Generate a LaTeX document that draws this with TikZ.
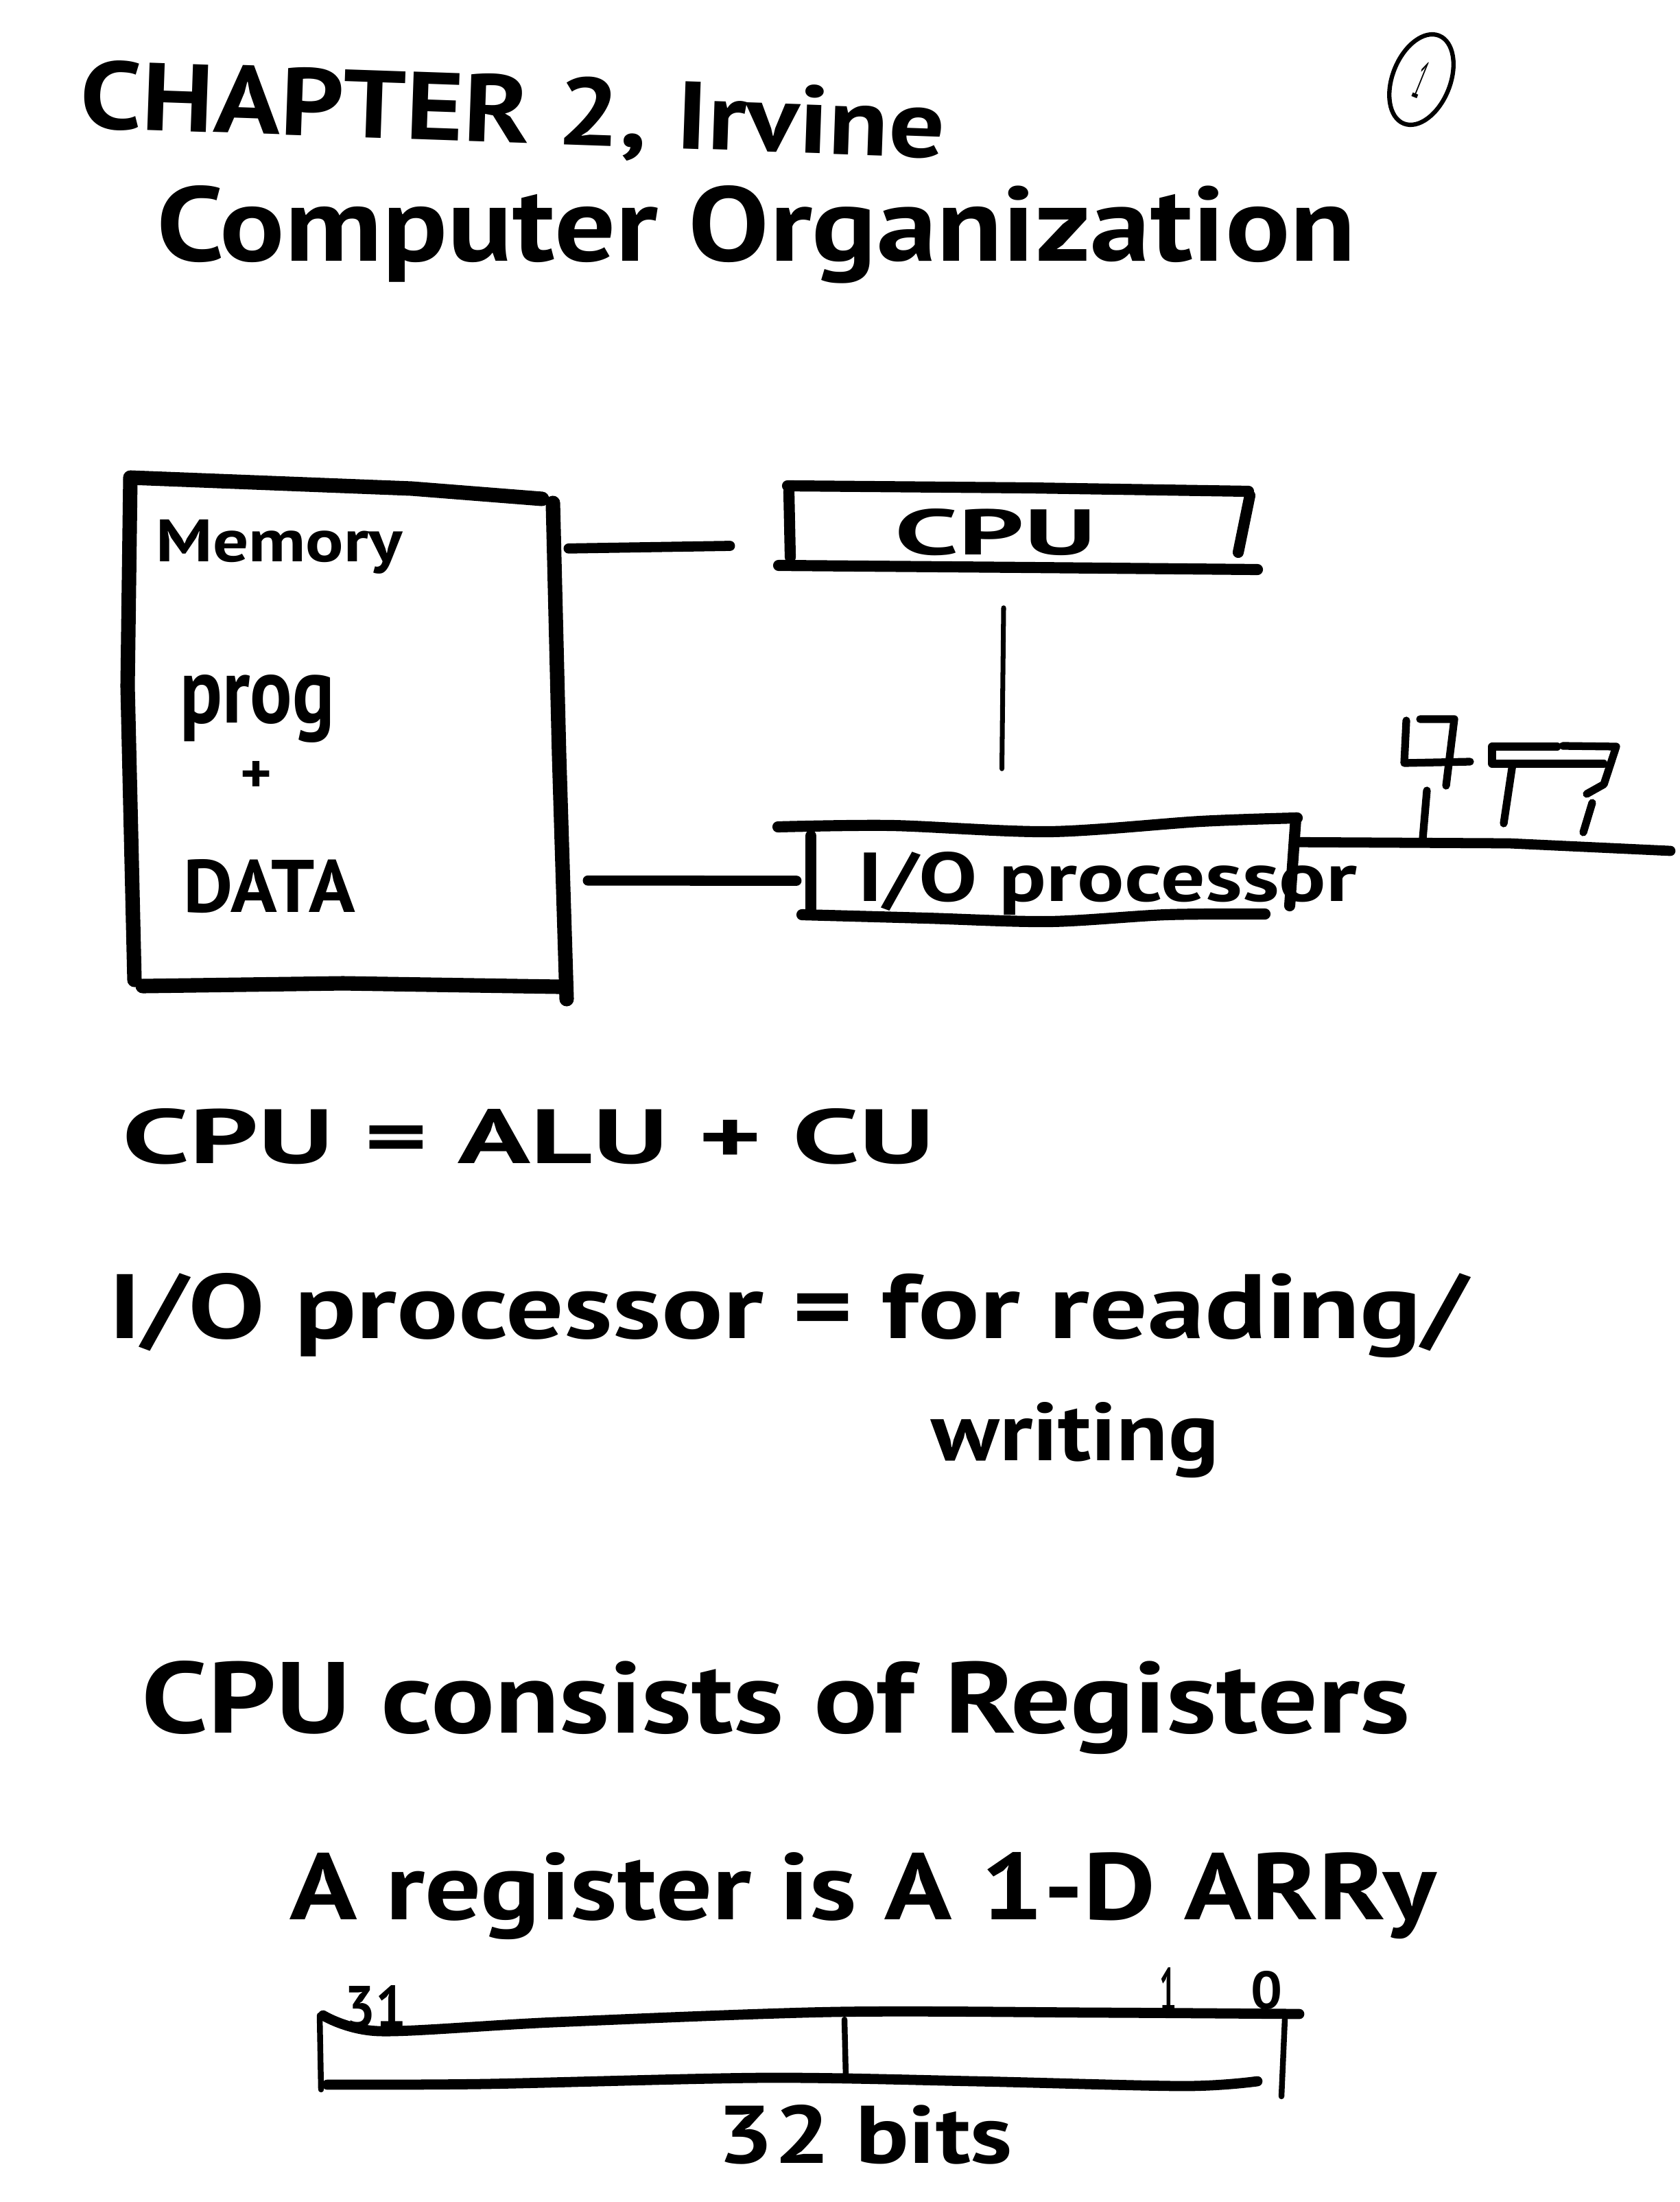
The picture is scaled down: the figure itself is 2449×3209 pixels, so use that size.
\documentclass[tikz,border=0pt]{standalone}
\usepackage{fontspec}
\setmainfont{PT Sans}
\usetikzlibrary{calc,shapes.geometric}
\newcommand\hw[3]{\resizebox{#1}{#2}{\bfseries #3}}
\newcommand\hwl[3]{\resizebox{#1}{#2}{#3}}
\begin{document}
\begin{tikzpicture}[x=0.01cm,y=-0.01cm,line cap=round,line join=round,
  boxline/.style={draw=black,line width=6pt},
  cpuline/.style={draw=black,line width=4.6pt},
  conn/.style={draw=black,line width=4.2pt},
  thinconn/.style={draw=black,line width=2pt},
  devline/.style={draw=black,line width=3.2pt},
  barline/.style={draw=black,line width=4.2pt},
  barvert/.style={draw=black,line width=2.4pt},
  txt/.style={inner sep=0pt,anchor=base west,text=black},
  hold/.style={inner sep=0pt,draw=none}]
\useasboundingbox (0,0) rectangle (2449,3209);
\fill[white] (0,0) rectangle (2449,3209);

% title
\node[txt,rotate=-2] (title) at (115,186) {\hw{12.6cm}{1.0cm}{CHAPTER 2, Irvine}};
\node[txt] (sub) at (228,380) {\hw{17.47cm}{1.1cm}{Computer Organization}};
\node[draw=black,line width=1.8pt,ellipse,inner sep=0pt,minimum width=0.84cm,minimum height=1.38cm,rotate=-22] (pg) at (2072,116) {\hwl{0.13cm}{0.55cm}{1}};

% placeholder nodes for the boxes
\node[hold,minimum width=6.4cm,minimum height=7.59cm] (mem) at (508,1075.5) {};
\node[hold,minimum width=6.82cm,minimum height=1.11cm] (cpu) at (1486,767.5) {};
\node[hold,minimum width=7.17cm,minimum height=1.39cm] (io) at (1534.5,1264.5) {};

% memory box strokes
\draw[boxline] (190,698) -- (186,1000) -- (196,1428);
\draw[boxline] (190,696) -- (600,712) -- (790,727);
\draw[boxline] (806,733) -- (815,1100) -- (826,1456);
\draw[boxline] (208,1437) -- (500,1433) -- (815,1438);
\node[txt] (memlbl) at (227,818) {\hw{3.59cm}{0.61cm}{Memory}};
\node[txt] (prog) at (262,1053) {\hw{2.25cm}{0.70cm}{prog}};
\node[inner sep=0pt] (plus) at (374,1132) {\hw{0.46cm}{0.46cm}{+}};
\node[txt] (data) at (267,1329) {\hw{2.5cm}{0.77cm}{DATA}};

% cpu box strokes
\draw[cpuline] (1148,708) -- (1500,711) -- (1820,716);
\draw[cpuline] (1150,716) -- (1152,812);
\draw[cpuline] (1822,722) -- (1805,805);
\draw[cpuline] (1135,824) -- (1500,827) -- (1833,830);
\node[txt] (cpulbl) at (1304,808) {\hw{2.93cm}{0.67cm}{CPU}};

% io box strokes
\draw[cpuline] plot[smooth] coordinates {(1134,1205) (1300,1203) (1530,1212) (1750,1197) (1891,1192)};
\draw[cpuline] (1889,1192) -- (1880,1320);
\draw[cpuline] (1182,1218) -- (1182,1328);
\draw[cpuline] plot[smooth] coordinates {(1169,1333) (1350,1338) (1530,1343) (1700,1333) (1844,1332)};
\node[txt] (iolbl) at (1250,1313) {\hw{7.27cm}{0.72cm}{I/O processor}};

% connectors
\draw[conn] ($(mem.north east)!0.137!(mem.south east)$) -- ($(cpu.west)+(-80,28)$);
\draw[conn] ($(mem.north east)!0.773!(mem.south east)+(28,0)$) -- ($(io.west)+(-14,19)$);
\draw[thinconn] ($(cpu.south)+(-23,62)$) -- ($(io.north)+(-74,-74)$);
\coordinate (ext) at (2435,1240);
\draw[conn] ($(io.north east)+(-4,33)$) -- (2200,1229) -- (ext);

% devices on the external line
\draw[devline] (2050,1050) -- (2047,1112) -- (2143,1110);
\draw[devline] (2070,1048) -- (2120,1048) -- (2108,1145);
\draw[devline] (2080,1152) -- (2074,1222);
\draw[devline] (2175,1088) -- (2270,1088);
\draw[devline] (2175,1088) -- (2175,1113) -- (2338,1113);
\draw[devline] (2205,1113) -- (2192,1200);
\draw[devline] (2278,1087) -- (2356,1088) -- (2338,1143) -- (2313,1157);
\draw[devline] (2321,1170) -- (2308,1213);

% notes
\node[txt] (eq1) at (178,1695) {\hw{11.83cm}{0.80cm}{CPU = ALU + CU}};
\node[txt] (eq2) at (158,1950) {\hw{19.8cm}{0.95cm}{I/O processor = for reading/}};
\node[txt] (eq2b) at (1357,2128) {\hw{4.19cm}{0.85cm}{writing}};
\node[txt] (reg1) at (206,2525) {\hw{18.47cm}{1.05cm}{CPU consists of Registers}};
\node[txt] (reg2) at (422,2797) {\hw{16.7cm}{0.98cm}{A register is A 1-D ARRy}};

% register bar
\draw[barline] plot[smooth] coordinates {(471,2937) (553,2960) (808,2947) (1216,2932) (1600,2933) (1894,2935)};
\draw[barline] plot[smooth] coordinates {(477,3038) (706,3037) (1114,3028) (1420,3033) (1726,3040) (1833,3033)};
\draw[barvert] (466,2937) -- (468,3045);
\draw[barvert] (1873,2942) -- (1868,3055);
\draw[barvert] (1231,2943) -- (1233,3028);
\node[txt] (b31) at (502,2955) {\hw{0.9cm}{0.62cm}{31}};
\node[txt] (b1) at (1690,2932) {\hw{0.25cm}{0.65cm}{1}};
\node[txt] (b0) at (1823,2927) {\hw{0.46cm}{0.55cm}{0}};
\node[txt] (bits) at (1045,3152) {\hw{4.3cm}{0.85cm}{32 bits}};
\end{tikzpicture}
\end{document}
